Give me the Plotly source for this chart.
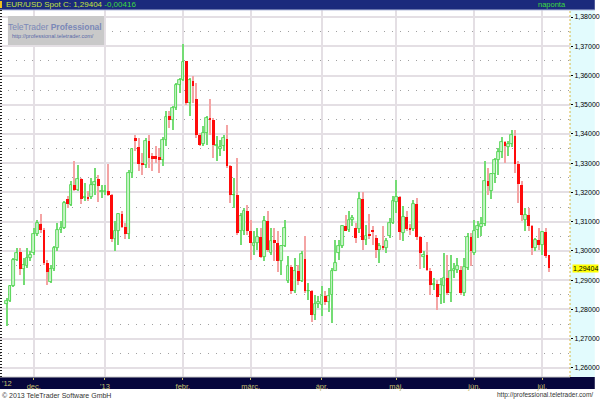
import plotly.graph_objects as go
import pandas as pd

# ---- data (EUR/USD daily) ----
dates = pd.bdate_range("2012-11-21", "2013-07-03")

opens = [
    1.2817, 1.2830, 1.2879, 1.2970, 1.2996, 1.2940, 1.2948, 1.2976, 1.2993, 1.3058,
    1.3092, 1.3070, 1.2959, 1.2894, 1.2940, 1.3010, 1.3070, 1.3079, 1.3179, 1.3158,
    1.3225, 1.3210, 1.3247, 1.3181, 1.3186, 1.3184, 1.3225, 1.3245, 1.3200, 1.3202,
    1.3206, 1.3190, 1.3042, 1.3067, 1.3127, 1.3081, 1.3058, 1.3267, 1.3387, 1.3355,
    1.3301, 1.3293, 1.3375, 1.3324, 1.3324, 1.3322, 1.3312, 1.3381, 1.3461, 1.3449,
    1.3489, 1.3569, 1.3586, 1.3649, 1.3506, 1.3580, 1.3518, 1.3396, 1.3366, 1.3404,
    1.3453, 1.3449, 1.3358, 1.3350, 1.3358, 1.3384, 1.3290, 1.3190, 1.3193, 1.3067,
    1.3067, 1.3136, 1.3067, 1.3016, 1.3028, 1.3047, 1.2978, 1.3104, 1.2993, 1.3039,
    1.3028, 1.2965, 1.3016, 1.2896, 1.2944, 1.2862, 1.2933, 1.2898, 1.2974, 1.2862,
    1.2864, 1.2782, 1.2819, 1.2816, 1.2845, 1.2825, 1.2848, 1.2933, 1.2993, 1.3016,
    1.3084, 1.3073, 1.3107, 1.3079, 1.3076, 1.3179, 1.3039, 1.3056, 1.3069, 1.3044,
    1.3004, 1.3016, 1.3010, 1.3050, 1.3096, 1.3167, 1.3183, 1.3061, 1.3115, 1.3079,
    1.3076, 1.3161, 1.3047, 1.2978, 1.2985, 1.2933, 1.2882, 1.2887, 1.2848, 1.2879,
    1.2907, 1.2856, 1.2933, 1.2936, 1.2936, 1.2856, 1.2942, 1.3047, 1.2993, 1.3073,
    1.3081, 1.3092, 1.3240, 1.3204, 1.3263, 1.3312, 1.3338, 1.3373, 1.3354, 1.3366,
    1.3392, 1.3299, 1.3227, 1.3107, 1.3124, 1.3084, 1.3010, 1.3039, 1.3019, 1.3065,
    1.2985]

highs = [
    1.2839, 1.2885, 1.2976, 1.3010, 1.3010, 1.2976, 1.3010, 1.2999, 1.3079, 1.3107,
    1.3127, 1.3079, 1.2970, 1.2953, 1.3016, 1.3096, 1.3101, 1.3170, 1.3187, 1.3238,
    1.3309, 1.3295, 1.3250, 1.3233, 1.3204, 1.3250, 1.3284, 1.3261, 1.3227, 1.3225,
    1.3298, 1.3195, 1.3101, 1.3130, 1.3138, 1.3096, 1.3278, 1.3352, 1.3396, 1.3387,
    1.3335, 1.3387, 1.3398, 1.3335, 1.3358, 1.3352, 1.3389, 1.3478, 1.3478, 1.3495,
    1.3575, 1.3592, 1.3708, 1.3651, 1.3592, 1.3597, 1.3575, 1.3404, 1.3426, 1.3461,
    1.3518, 1.3455, 1.3392, 1.3381, 1.3398, 1.3430, 1.3295, 1.3250, 1.3318, 1.3130,
    1.3147, 1.3158, 1.3107, 1.3067, 1.3079, 1.3079, 1.3119, 1.3136, 1.3079, 1.3079,
    1.3067, 1.3022, 1.3107, 1.2982, 1.2953, 1.2976, 1.2953, 1.2999, 1.3050, 1.2890,
    1.2868, 1.2851, 1.2845, 1.2879, 1.2862, 1.2873, 1.2942, 1.3039, 1.3039, 1.3090,
    1.3122, 1.3138, 1.3124, 1.3096, 1.3200, 1.3200, 1.3090, 1.3126, 1.3084, 1.3056,
    1.3027, 1.3084, 1.3044, 1.3113, 1.3187, 1.3244, 1.3187, 1.3153, 1.3136, 1.3092,
    1.3175, 1.3181, 1.3050, 1.2999, 1.3031, 1.2942, 1.2907, 1.2902, 1.2907, 1.2993,
    1.2987, 1.2987, 1.2959, 1.2976, 1.2947, 1.2976, 1.3061, 1.3061, 1.3107, 1.3101,
    1.3115, 1.3307, 1.3284, 1.3267, 1.3318, 1.3352, 1.3389, 1.3377, 1.3375, 1.3415,
    1.3415, 1.3307, 1.3240, 1.3147, 1.3147, 1.3090, 1.3044, 1.3079, 1.3067, 1.3079,
    1.2987]

lows = [
    1.2742, 1.2826, 1.2876, 1.2965, 1.2919, 1.2885, 1.2942, 1.2965, 1.2987, 1.3050,
    1.3062, 1.2953, 1.2883, 1.2891, 1.2933, 1.2999, 1.3062, 1.3076, 1.3147, 1.3153,
    1.3206, 1.3206, 1.3161, 1.3172, 1.3172, 1.3176, 1.3193, 1.3168, 1.3181, 1.3190,
    1.3187, 1.3031, 1.3001, 1.3022, 1.3079, 1.3042, 1.3042, 1.3250, 1.3341, 1.3273,
    1.3261, 1.3284, 1.3284, 1.3273, 1.3301, 1.3267, 1.3290, 1.3358, 1.3421, 1.3415,
    1.3483, 1.3540, 1.3580, 1.3500, 1.3461, 1.3506, 1.3387, 1.3358, 1.3358, 1.3364,
    1.3398, 1.3318, 1.3307, 1.3324, 1.3341, 1.3284, 1.3164, 1.3147, 1.3056, 1.3022,
    1.3056, 1.3054, 1.2970, 1.2987, 1.3005, 1.2976, 1.2965, 1.2996, 1.2985, 1.2965,
    1.2928, 1.2917, 1.3013, 1.2890, 1.2853, 1.2856, 1.2885, 1.2894, 1.2856, 1.2833,
    1.2757, 1.2765, 1.2805, 1.2776, 1.2816, 1.2793, 1.2752, 1.2930, 1.2970, 1.3010,
    1.3067, 1.3065, 1.3084, 1.3027, 1.3061, 1.3004, 1.3021, 1.3042, 1.3021, 1.2976,
    1.2959, 1.3004, 1.2993, 1.3044, 1.3092, 1.3130, 1.3039, 1.3033, 1.3067, 1.3056,
    1.3067, 1.3039, 1.2939, 1.2942, 1.2930, 1.2851, 1.2868, 1.2799, 1.2819, 1.2822,
    1.2851, 1.2825, 1.2907, 1.2925, 1.2851, 1.2845, 1.2936, 1.2947, 1.2987, 1.3044,
    1.3050, 1.3084, 1.3193, 1.3179, 1.3232, 1.3261, 1.3318, 1.3301, 1.3324, 1.3354,
    1.3267, 1.3164, 1.3101, 1.3067, 1.3067, 1.2987, 1.2999, 1.3004, 1.2987, 1.2976,
    1.2928]

closes = [
    1.2830, 1.2879, 1.2970, 1.2993, 1.2940, 1.2953, 1.2976, 1.2985, 1.3058, 1.3096,
    1.3070, 1.2959, 1.2928, 1.2940, 1.3010, 1.3073, 1.3079, 1.3164, 1.3161, 1.3227,
    1.3210, 1.3247, 1.3176, 1.3184, 1.3181, 1.3227, 1.3236, 1.3221, 1.3204, 1.3206,
    1.3190, 1.3042, 1.3067, 1.3127, 1.3081, 1.3058, 1.3267, 1.3347, 1.3375, 1.3298,
    1.3295, 1.3375, 1.3318, 1.3316, 1.3315, 1.3312, 1.3381, 1.3457, 1.3449, 1.3489,
    1.3569, 1.3586, 1.3646, 1.3506, 1.3583, 1.3563, 1.3396, 1.3364, 1.3404, 1.3453,
    1.3448, 1.3361, 1.3364, 1.3355, 1.3387, 1.3290, 1.3193, 1.3193, 1.3062, 1.3119,
    1.3136, 1.3067, 1.3028, 1.3028, 1.3047, 1.2978, 1.3104, 1.3005, 1.3035, 1.3028,
    1.2965, 1.3016, 1.3079, 1.2947, 1.2862, 1.2933, 1.2898, 1.2990, 1.2862, 1.2864,
    1.2782, 1.2819, 1.2825, 1.2845, 1.2825, 1.2845, 1.2933, 1.2959, 1.3016, 1.3084,
    1.3069, 1.3107, 1.3113, 1.3044, 1.3179, 1.3039, 1.3050, 1.3053, 1.3065, 1.3004,
    1.3016, 1.3012, 1.3033, 1.3096, 1.3170, 1.3183, 1.3065, 1.3115, 1.3076, 1.3073,
    1.3161, 1.3047, 1.2993, 1.2987, 1.2936, 1.2882, 1.2887, 1.2841, 1.2885, 1.2907,
    1.2856, 1.2933, 1.2939, 1.2947, 1.2856, 1.2944, 1.3047, 1.2999, 1.3069, 1.3084,
    1.3092, 1.3238, 1.3221, 1.3263, 1.3312, 1.3338, 1.3373, 1.3358, 1.3366, 1.3395,
    1.3299, 1.3229, 1.3124, 1.3124, 1.3084, 1.3010, 1.3039, 1.3019, 1.3065, 1.2982,
    1.29404]

year_label = "'12"
month_labels = ["dec.", "'13", "febr.", "márc.", "ápr.", "máj.", "jún.", "júl."]
last_close = 1.29404
change = -0.00416

# ---- derived ----
n = len(dates)
idx = list(range(n))
up = [i for i in idx if closes[i] >= opens[i]]
dn = [i for i in idx if closes[i] < opens[i]]

month_pos = []
for i in range(1, n):
    if dates[i].month != dates[i - 1].month:
        month_pos.append(i)

FONT = "Liberation Sans, Arial, sans-serif"
W, H = 600, 400
ML, MR, MT, MB = 0, 25, 10, 23
PW, PH = W - ML - MR, H - MT - MB
AXIS_LBL = "#c8c070"


def px_x(p):
    return (p - ML) / PW


def px_y(p):
    return 1 - (p - MT) / PH


fig = go.Figure()

# wicks
fig.add_trace(go.Bar(x=up, base=[lows[i] for i in up], y=[highs[i] - lows[i] for i in up],
                     width=0.3, marker=dict(color="#74dc74", line=dict(width=0)), hoverinfo="skip"))
fig.add_trace(go.Bar(x=dn, base=[lows[i] for i in dn], y=[highs[i] - lows[i] for i in dn],
                     width=0.3, marker=dict(color="#f4a4a4", line=dict(width=0)), hoverinfo="skip"))
# bodies
fig.add_trace(go.Bar(x=up, base=[opens[i] for i in up], y=[closes[i] - opens[i] for i in up],
                     width=0.8, marker=dict(color="#c6f3c6", line=dict(color="#44d044", width=0.8))))
fig.add_trace(go.Bar(x=dn, base=[closes[i] for i in dn], y=[opens[i] - closes[i] for i in dn],
                     width=0.82, marker=dict(color="#ff0a0a", line=dict(width=0))))

shapes = [
    # right axis panel
    dict(type="rect", xref="paper", yref="paper", x0=1, x1=px_x(W), y0=0, y1=1,
         fillcolor="#e2fbfd", line=dict(width=0), layer="below"),
    dict(type="line", xref="paper", yref="paper", x0=1, x1=1, y0=0, y1=1,
         line=dict(color="#d8b840", width=1, dash="2px,2px")),
    # header bar
    dict(type="rect", xref="paper", yref="paper", x0=0, x1=px_x(W), y0=1, y1=px_y(0),
         fillcolor="#1b2a7c", line=dict(width=0)),
    dict(type="line", xref="paper", yref="paper", x0=0, x1=px_x(W), y0=px_y(10), y1=px_y(10),
         line=dict(color="#b8c0dc", width=1)),
    dict(type="rect", xref="paper", yref="paper", x0=0, x1=px_x(2), y0=px_y(1), y1=px_y(8),
         fillcolor="#f0c020", line=dict(width=0)),
    # bottom bar (under the tick labels)
    dict(type="rect", xref="paper", yref="paper", x0=0, x1=px_x(W), y0=px_y(389), y1=0,
         fillcolor="#06063c", line=dict(width=0), layer="below"),
    dict(type="line", xref="paper", yref="paper", x0=0, x1=1, y0=0, y1=0,
         line=dict(color="#c8c8c8", width=1)),
    # left ruler
    dict(type="line", xref="paper", yref="paper", x0=px_x(1), x1=px_x(1), y0=0, y1=1,
         line=dict(color="#202020", width=2, dash="1px,2px")),
    # logo box
    dict(type="rect", xref="paper", yref="paper", x0=px_x(8), x1=px_x(105), y0=px_y(45), y1=px_y(16),
         fillcolor="#c9c9c9", line=dict(width=0), layer="above"),
]

annotations = [
    dict(xref="paper", yref="paper", x=px_x(4), y=px_y(4.5), xanchor="left", yanchor="middle",
         showarrow=False, font=dict(family=FONT, size=8, color="#c4e43c"),
         text="EUR/USD Spot C: %s <span style='color:#3cdc3c'>%s</span>"
              % (f"{last_close:.5f}".replace(".", ","), f"{change:.5f}".replace(".", ","))),
    dict(xref="paper", yref="paper", x=px_x(573), y=px_y(4.5), xanchor="right", yanchor="middle",
         showarrow=False, font=dict(family=FONT, size=7.5, color="#3cdc3c"), text="naponta"),
    dict(xref="paper", yref="paper", x=px_x(55), y=px_y(26.5), xanchor="center", yanchor="middle",
         showarrow=False, font=dict(family=FONT, size=8.5, color="#7a88b8"),
         text="TeleTrader <b>Professional</b>"),
    dict(xref="paper", yref="paper", x=px_x(97), y=px_y(36), xanchor="right", yanchor="middle",
         showarrow=False, font=dict(family=FONT, size=5.5, color="#5a6aa8"),
         text="http://professional.teletrader.com/"),
    dict(xref="paper", yref="y", x=1, y=last_close, xanchor="left", yanchor="middle",
         showarrow=False, bgcolor="#ffff00", borderpad=0, xshift=2,
         font=dict(family=FONT, size=7, color="#000000"),
         text=f"{last_close:.5f}".replace(".", ",")),
    # year label at the left end of the time axis
    dict(xref="paper", yref="paper", x=0, y=px_y(383.5), xanchor="left", yanchor="middle",
         showarrow=False, font=dict(family=FONT, size=7.5, color=AXIS_LBL), text=year_label),
    dict(xref="paper", yref="paper", x=0, y=px_y(395), xanchor="left", yanchor="middle",
         showarrow=False, font=dict(family=FONT, size=7, color="#333333"),
         text="© 2013 TeleTrader Software GmbH"),
    dict(xref="paper", yref="paper", x=px_x(600), y=px_y(395), xanchor="right", yanchor="middle",
         showarrow=False, font=dict(family=FONT, size=6.5, color="#333333"),
         text="http://professional.teletrader.com/"),
]

fig.update_layout(
    width=W, height=H, autosize=False,
    margin=dict(l=ML, r=MR, t=MT, b=MB, pad=0),
    paper_bgcolor="white", plot_bgcolor="white",
    barmode="overlay", bargap=0, showlegend=False,
    separators=",.",
    shapes=shapes, annotations=annotations,
    xaxis=dict(range=[-1.96, 166.2], tickmode="array", tickvals=month_pos, ticktext=month_labels,
               showgrid=True, gridcolor="#e4dfe4", gridwidth=1.5, zeroline=False,
               ticks="outside", ticklen=2, tickcolor=AXIS_LBL,
               tickfont=dict(family=FONT, size=7.5, color=AXIS_LBL), fixedrange=True),
    yaxis=dict(side="right", range=[1.2569, 1.3824], tick0=1.26, dtick=0.01, tickformat=".5f",
               showgrid=True, gridcolor="#e4dfe4", gridwidth=1.5, zeroline=False,
               ticks="outside", ticklen=2, tickcolor="#000000",
               tickfont=dict(family=FONT, size=7, color="#000000"),
               minor=dict(dtick=0.005, tick0=1.26, showgrid=True, gridcolor="#a0a0a0",
                          griddash="1px,7px", gridwidth=1)),
)

fig.write_html("out.html", config={"displayModeBar": False},
               post_script="document.body.style.margin='0';document.body.style.padding='0';")
